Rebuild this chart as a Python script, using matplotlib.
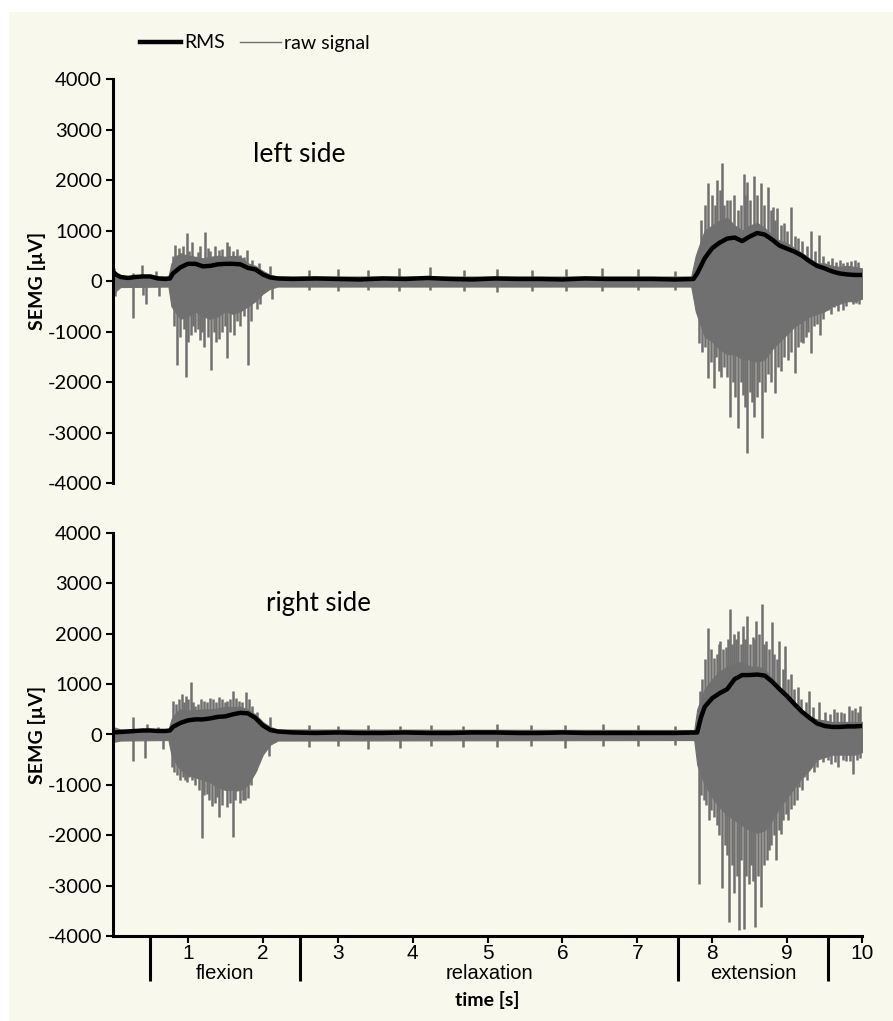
import numpy as np
import matplotlib
matplotlib.use("Agg")
import matplotlib.pyplot as plt
from matplotlib.lines import Line2D
from matplotlib.patches import Rectangle

plt.rcParams['font.family'] = ['Lato', 'DejaVu Sans']
narrow = ['Liberation Sans', 'DejaVu Sans']

# --- left side -------------------------------------------------------------
# dense part of the raw signal (upper / lower edge)
left_env_t = [0.0, 0.1, 0.74, 0.78, 0.85, 0.9, 1.0, 1.1, 1.2, 1.3, 1.4, 1.5, 1.6,
              1.7, 1.8, 1.9, 2.0, 2.1, 2.2, 7.72, 7.78, 7.85, 7.9, 8.0, 8.1, 8.2,
              8.3, 8.4, 8.5, 8.6, 8.7, 8.8, 8.9, 9.0, 9.1, 9.2, 9.3, 9.4, 9.5,
              9.6, 9.7, 9.8, 9.9, 10.0]
left_env_hi = [200, 100, 90, 350, 500, 550, 500, 480, 450, 480, 500, 480, 500,
               480, 350, 300, 200, 120, 90, 90, 500, 800, 1000, 1100, 1200, 1250,
               1100, 1000, 1100, 1150, 1050, 900, 800, 750, 650, 550, 450, 350, 350,
               300, 280, 300, 280, 250]
left_env_lo = [-250, -120, -110, -500, -650, -750, -700, -600, -700, -750, -700, -600, -650,
               -600, -500, -400, -250, -150, -110, -110, -600, -900, -1100, -1200, -1350, -1450,
               -1450, -1550, -1550, -1600, -1550, -1350, -1200, -1050, -900, -800, -700, -650, -600,
               -500, -450, -400, -400, -350]
# single peaks of the raw signal, above and below zero
left_up_t = [0.02, 0.27, 0.39, 0.58, 0.66,
             0.80, 0.83, 0.88, 0.93, 0.99, 1.02, 1.05, 1.13, 1.16, 1.23,
             1.27, 1.30, 1.36, 1.41, 1.46, 1.52, 1.55, 1.60, 1.66, 1.70,
             1.75, 1.79, 1.85, 1.95, 2.09,
             2.62, 3.01, 3.40, 3.82, 4.23, 4.68, 5.13, 5.59, 6.05, 6.53, 7.01, 7.51,
             7.85, 7.90, 7.95, 8.00, 8.04, 8.07, 8.10, 8.13, 8.16, 8.20,
             8.24, 8.29, 8.34, 8.38, 8.42, 8.44, 8.47, 8.51, 8.56, 8.60,
             8.65, 8.69, 8.74, 8.78, 8.81, 8.84, 8.87, 8.92, 8.96, 9.00,
             9.05, 9.10, 9.15, 9.20, 9.26, 9.32, 9.37, 9.43, 9.48, 9.55,
             9.60, 9.65, 9.70, 9.75, 9.80, 9.85, 9.90, 9.95]
left_up_v = [250, 150, 320, 200, 100,
             500, 710, 650, 700, 950, 600, 770, 580, 690, 970,
             650, 600, 700, 620, 640, 770, 690, 600, 630, 520,
             480, 610, 420, 350, 300,
             220, 240, 220, 250, 280, 220, 230, 210, 230, 250, 240, 200,
             1200, 1500, 1940, 1700, 1500, 2000, 1800, 2340, 1500, 1600,
             1600, 1700, 1400, 1500, 2120, 1700, 1960, 1600, 2080, 1700,
             1940, 1500, 1860, 1400, 1470, 1200, 1440, 1100, 1150, 1000,
             1470, 900, 850, 800, 700, 1000, 600, 910, 500, 400,
             450, 380, 420, 350, 380, 400, 420, 380]
left_dn_t = [0.03, 0.27, 0.40, 0.44, 0.62,
             0.82, 0.85, 0.90, 0.95, 0.97, 1.00, 1.04, 1.07, 1.10, 1.13,
             1.16, 1.19, 1.22, 1.27, 1.31, 1.35, 1.38, 1.41, 1.45, 1.49,
             1.52, 1.56, 1.61, 1.65, 1.69, 1.75, 1.80, 1.84, 1.88, 1.92,
             1.96, 2.12,
             2.62, 3.01, 3.40, 3.82, 4.23, 4.68, 5.13, 5.59, 6.05, 6.53, 7.01, 7.51,
             7.82, 7.86, 7.90, 7.94, 7.98, 8.02, 8.05, 8.09, 8.12, 8.16,
             8.20, 8.24, 8.28, 8.31, 8.34, 8.38, 8.41, 8.44, 8.47, 8.51,
             8.53, 8.56, 8.60, 8.63, 8.66, 8.70, 8.75, 8.79, 8.84, 8.88,
             8.92, 8.96, 9.01, 9.05, 9.10, 9.14, 9.18, 9.21, 9.25, 9.28,
             9.32, 9.36, 9.40, 9.44, 9.48, 9.54, 9.58, 9.63, 9.68, 9.74,
             9.78, 9.84, 9.88, 9.92, 9.96]
left_dn_v = [-300, -730, -280, -450, -300,
             -900, -1660, -1100, -950, -1900, -1200, -1070, -900, -1010, -950,
             -1170, -1000, -1310, -1100, -1760, -1000, -1200, -1150, -1000, -900,
             -1530, -1000, -1060, -800, -900, -700, -1660, -800, -400, -550,
             -450, -350,
             -180, -200, -180, -200, -170, -190, -220, -200, -190, -200, -180, -170,
             -1230, -1400, -1300, -1920, -1600, -2120, -1500, -1790, -1900, -1700,
             -1900, -2690, -2000, -2300, -2910, -2000, -2260, -2500, -3410, -2200,
             -2400, -2690, -2300, -2000, -3110, -2200, -1850, -2000, -2220, -1700,
             -1790, -1500, -1560, -1400, -1830, -1300, -1200, -1230, -1100, -1000,
             -1430, -900, -850, -1070, -750, -570, -650, -510, -600, -570,
             -500, -380, -450, -440, -450]
left_rms_t = [0.0, 0.05, 0.1, 0.2, 0.3, 0.4, 0.5, 0.6, 0.7, 0.76,
              0.8, 0.9, 1.0, 1.1, 1.2, 1.3, 1.4, 1.5, 1.6, 1.7, 1.8, 1.9, 2.0, 2.1, 2.2,
              2.4, 2.7, 3.0, 3.3, 3.6, 3.9, 4.2, 4.5, 4.8, 5.1, 5.4, 5.7, 6.0, 6.3,
              6.6, 6.9, 7.2, 7.5, 7.75, 7.8, 7.9,
              8.0, 8.1, 8.2, 8.3, 8.4, 8.5, 8.6, 8.7, 8.8, 8.9, 9.0, 9.1, 9.2, 9.3,
              9.4, 9.5, 9.6, 9.7, 9.8, 9.9, 10.0]
left_rms = [180, 120, 80, 60, 80, 90, 90, 50, 40, 50,
            150, 270, 340, 340, 290, 300, 330, 340, 340, 330, 260, 230, 130, 70, 50,
            40, 50, 40, 30, 50, 40, 60, 40, 30, 50, 40, 40, 30, 50,
            40, 40, 40, 30, 40, 150, 450,
            650, 760, 840, 860, 790, 880, 950, 920, 820, 700, 640, 580, 500, 390,
            300, 250, 190, 150, 130, 120, 120]

# --- right side ------------------------------------------------------------
right_env_t = [0.0, 0.1, 0.74, 0.78, 0.85, 0.9, 1.0, 1.1, 1.2, 1.3, 1.4, 1.5, 1.6,
               1.7, 1.8, 1.9, 2.0, 2.1, 2.2, 7.76, 7.8, 7.85, 7.9, 8.0, 8.1, 8.2,
               8.3, 8.4, 8.5, 8.6, 8.7, 8.8, 8.9, 9.0, 9.1, 9.2, 9.3, 9.4, 9.5,
               9.6, 9.7, 9.8, 9.9, 10.0]
right_env_hi = [150, 100, 90, 300, 450, 500, 480, 480, 500, 500, 520, 550, 550,
                550, 500, 400, 250, 150, 100, 90, 500, 700, 900, 1100, 1250, 1350,
                1400, 1450, 1350, 1350, 1300, 1100, 900, 750, 600, 450, 350, 300, 280,
                250, 250, 250, 250, 250]
right_env_lo = [-150, -120, -110, -400, -600, -700, -800, -850, -900, -950, -1050, -1100, -1100,
                -1100, -1000, -750, -400, -200, -120, -110, -600, -800, -1000, -1250, -1450, -1600,
                -1700, -1800, -1900, -1950, -1900, -1700, -1450, -1250, -1050, -850, -700, -500, -450,
                -400, -400, -400, -400, -350]
right_up_t = [0.27, 0.45, 0.60,
              0.80, 0.84, 0.88, 0.92, 0.95, 0.97, 1.00, 1.04, 1.07, 1.09,
              1.14, 1.17, 1.21, 1.25, 1.29, 1.33, 1.37, 1.41, 1.45, 1.49,
              1.52, 1.56, 1.60, 1.64, 1.68, 1.72, 1.77, 1.81, 1.85, 1.92,
              2.09,
              2.62, 3.01, 3.41, 3.83, 4.25, 4.67, 5.13, 5.58, 6.04, 6.54, 7.01, 7.51,
              7.84, 7.87, 7.91, 7.94, 7.99, 8.02, 8.06, 8.09, 8.11, 8.15,
              8.18, 8.21, 8.24, 8.27, 8.29, 8.32, 8.35, 8.38, 8.41, 8.44,
              8.47, 8.51, 8.54, 8.57, 8.59, 8.62, 8.66, 8.69, 8.72, 8.76,
              8.80, 8.83, 8.86, 8.89, 8.94, 8.97, 9.01, 9.05, 9.09, 9.14,
              9.19, 9.25, 9.29, 9.35, 9.43, 9.50, 9.57, 9.62, 9.67, 9.72,
              9.76, 9.82, 9.86, 9.90, 9.94, 9.97]
right_up_v = [340, 200, 150,
              670, 600, 700, 810, 650, 770, 700, 1040, 650, 560,
              600, 700, 670, 650, 720, 700, 650, 740, 700, 640,
              670, 700, 870, 720, 670, 650, 840, 700, 560, 450,
              340,
              180, 170, 180, 170, 190, 170, 200, 180, 190, 200, 180, 160,
              870, 1100, 1500, 2120, 1700, 1510, 1600, 1800, 1860, 1700,
              1740, 1900, 2500, 1800, 2000, 1900, 2060, 1800, 2160, 1900,
              2360, 1800, 1930, 1900, 2260, 2000, 2600, 1800, 1860, 1700,
              2230, 1600, 1500, 1860, 1300, 1760, 1100, 1210, 900, 950,
              700, 650, 870, 550, 640, 450, 400, 500, 450, 450,
              430, 560, 480, 520, 450, 560]
right_dn_t = [0.27, 0.43, 0.67,
              0.79, 0.82, 0.86, 0.90, 0.94, 0.96, 0.99, 1.01, 1.05, 1.10,
              1.15, 1.19, 1.22, 1.25, 1.28, 1.32, 1.36, 1.39, 1.42, 1.45,
              1.47, 1.52, 1.56, 1.60, 1.63, 1.66, 1.70, 1.73, 1.76, 1.80,
              1.84, 1.88, 1.91, 1.95, 2.08,
              2.62, 3.01, 3.41, 3.83, 4.25, 4.67, 5.13, 5.58, 6.04, 6.54, 7.01, 7.51,
              7.82, 7.85, 7.89, 7.92, 7.96, 7.99, 8.02, 8.06, 8.09, 8.13,
              8.17, 8.20, 8.23, 8.26, 8.29, 8.33, 8.36, 8.39, 8.42, 8.45,
              8.49, 8.52, 8.55, 8.57, 8.61, 8.65, 8.69, 8.73, 8.76, 8.79,
              8.82, 8.85, 8.89, 8.92, 8.95, 8.98, 9.01, 9.05, 9.09, 9.13,
              9.16, 9.20, 9.23, 9.27, 9.32, 9.36, 9.40, 9.43, 9.48, 9.54,
              9.59, 9.64, 9.68, 9.74, 9.79, 9.84, 9.88, 9.93, 9.97]
right_dn_v = [-520, -470, -280,
              -650, -750, -800, -900, -850, -910, -950, -850, -900, -1000,
              -1100, -2060, -1200, -1190, -1300, -1410, -1350, -1250, -1640, -1400,
              -900, -1440, -1350, -2040, -1300, -1120, -1350, -1300, -1300, -1270,
              -1000, -760, -700, -550, -420,
              -250, -220, -280, -260, -230, -250, -240, -220, -260, -230, -220, -200,
              -2960, -1200, -1310, -1400, -1700, -1500, -1640, -1800, -2000, -3050,
              -2200, -2400, -3730, -2600, -3150, -2800, -3890, -2500, -3860, -2800,
              -2960, -2600, -2900, -3830, -2800, -3430, -2600, -2500, -2300, -2200,
              -2000, -2500, -1900, -1970, -1700, -1580, -1700, -1480, -1400, -1300,
              -1050, -1100, -850, -900, -590, -750, -650, -400, -550, -500,
              -590, -550, -650, -500, -530, -520, -790, -500, -460]
right_rms_t = [0.0, 0.1, 0.2, 0.3, 0.4, 0.5, 0.6, 0.7, 0.76,
               0.8, 0.9, 1.0, 1.1, 1.2, 1.3, 1.4, 1.5, 1.6, 1.7, 1.8, 1.9, 2.0, 2.1, 2.2,
               2.4, 2.7, 3.0, 3.3, 3.6, 3.9, 4.2, 4.5, 4.8, 5.1, 5.4, 5.7, 6.0, 6.3,
               6.6, 6.9, 7.2, 7.5, 7.8, 7.85, 7.9,
               8.0, 8.1, 8.2, 8.3, 8.4, 8.5, 8.6, 8.7, 8.8, 8.9, 9.0, 9.1, 9.2, 9.3,
               9.4, 9.5, 9.6, 9.7, 9.8, 9.9, 10.0]
right_rms = [40, 50, 60, 70, 80, 80, 70, 70, 80,
             150, 230, 280, 300, 300, 320, 350, 360, 400, 430, 420, 330, 180, 90, 60,
             40, 30, 40, 30, 30, 40, 30, 30, 40, 40, 30, 30, 40, 30,
             30, 30, 30, 30, 40, 340, 550,
             720, 820, 900, 1100, 1180, 1180, 1190, 1170, 1050, 900, 760, 600, 450, 330,
             220, 170, 150, 150, 160, 160, 170]

yticks = [-4000, -3000, -2000, -1000, 0, 1000, 2000, 3000, 4000]
xticks = [1, 2, 3, 4, 5, 6, 7, 8, 9, 10]
phase_edges = [0.5, 2.5, 7.55, 9.55]
phase_names = ['flexion', 'relaxation', 'extension']

raw_col = '#707070'
cream = '#f9f8ec'

fig = plt.figure(figsize=(8.93, 10.21), dpi=100)
fig.patch.set_facecolor('white')
fig.add_artist(Rectangle((9 / 893, 0), 1, 1 - 12 / 1021, transform=fig.transFigure,
                         facecolor=cream, edgecolor='none', zorder=-10))

ax_top = fig.add_axes([113 / 893, 1 - 483 / 1021, 749 / 893, 404 / 1021])
ax_bot = fig.add_axes([113 / 893, 1 - 936 / 1021, 749 / 893, 403 / 1021])


def draw_panel(ax, env_t, env_hi, env_lo, up_t, up_v, dn_t, dn_v, rms_t, rms,
               title, tx, ty, tsize):
    ax.set_facecolor('none')
    ax.fill_between(env_t, env_lo, env_hi, color=raw_col, lw=0.8, zorder=2)
    ax.vlines(up_t, 0, up_v, color=raw_col, lw=1.8, zorder=2)
    ax.vlines(dn_t, 0, dn_v, color=raw_col, lw=1.8, zorder=2)
    ax.plot(rms_t, rms, color='black', lw=3.2, zorder=3, solid_joinstyle='round')
    ax.set_xlim(0, 10)
    ax.set_ylim(-4000, 4000)
    ax.set_yticks(yticks)
    ax.set_yticklabels([str(v) for v in yticks], fontsize=14.5)
    ax.tick_params(axis='y', direction='out', length=5, width=1.5, pad=3)
    for s in ['top', 'right']:
        ax.spines[s].set_visible(False)
    ax.spines['left'].set_linewidth(2.2)
    ax.set_ylabel('SEMG [\u00b5V]', fontsize=14, fontweight='bold', labelpad=1)
    ax.text(tx, ty, title, fontsize=tsize, ha='center', va='center')


draw_panel(ax_top, left_env_t, left_env_hi, left_env_lo, left_up_t, left_up_v,
           left_dn_t, left_dn_v, left_rms_t, left_rms, 'left side', 2.49, 2500, 19)
draw_panel(ax_bot, right_env_t, right_env_hi, right_env_lo, right_up_t, right_up_v,
           right_dn_t, right_dn_v, right_rms_t, right_rms, 'right side', 2.74, 2600, 18.5)

ax_top.spines['bottom'].set_visible(False)
ax_top.set_xticks([])

ax_bot.spines['bottom'].set_linewidth(2.2)
ax_bot.set_xticks(xticks)
ax_bot.set_xticklabels([str(v) for v in xticks], fontsize=15, family=narrow)
ax_bot.tick_params(axis='x', direction='out', length=5, width=1.5, pad=1)

# phase boundaries below the time axis
trans = ax_bot.get_xaxis_transform()
ax_bot.vlines(phase_edges, -0.112, 0, transform=trans, color='black', lw=2.2, clip_on=False)
for i, name in enumerate(phase_names):
    mid = (phase_edges[i] + phase_edges[i + 1]) / 2
    ax_bot.text(mid, -0.092, name, transform=trans, ha='center', va='center',
                fontsize=14.5, family=narrow)
ax_bot.text(5.0, -0.16, 'time [s]', transform=trans, ha='center', va='center',
            fontsize=14, fontweight='bold')

handles = [Line2D([], [], color='black', lw=3.2), Line2D([], [], color=raw_col, lw=1.0)]
fig.legend(handles, ['RMS', 'raw signal'], loc='center left',
           bbox_to_anchor=(140 / 893, 1 - 43 / 1021), ncol=2, frameon=False,
           borderpad=0, borderaxespad=0, fontsize=14, handlelength=2.1,
           handletextpad=0.15, columnspacing=0.8)

fig.savefig('out.png', dpi=100, facecolor=fig.get_facecolor())
